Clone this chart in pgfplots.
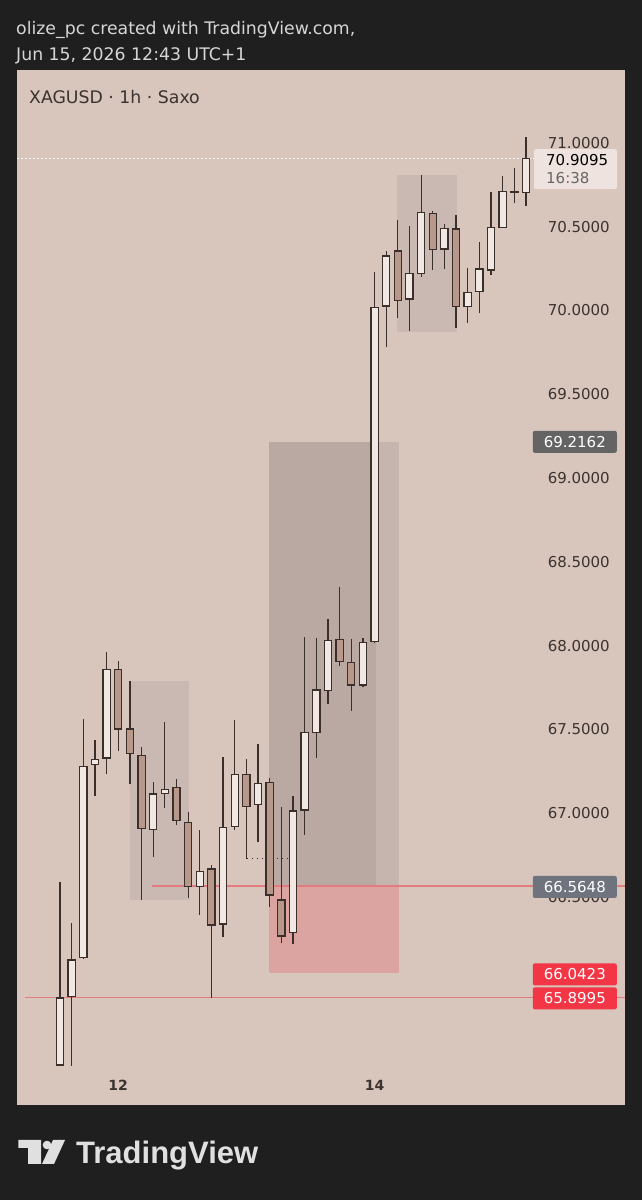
\documentclass[border=0pt]{standalone}
\usepackage{fontspec}
\setmainfont{DejaVu Sans}
\newfontfamily\tvfont{Liberation Sans}
\usepackage{pgfplots}
\pgfplotsset{compat=1.18}
\usepackage{pgfplotstable}
\definecolor{bgdark}{HTML}{1F1F1F}
\definecolor{panel}{HTML}{D8C5BC}
\definecolor{hdr}{HTML}{D6D6D6}
\definecolor{ink}{HTML}{3A2F2B}
\definecolor{bullfill}{HTML}{F1E8E4}
\definecolor{bearfill}{HTML}{B8988B}
\definecolor{boxlight}{HTML}{CAB9B2}
\definecolor{posgrey}{HTML}{C6B4AE}
\definecolor{posdark}{HTML}{BAA8A2}
\definecolor{posred}{HTML}{DCA4A0}
\definecolor{redline}{HTML}{E27C7E}
\definecolor{tvred}{HTML}{F23645}
\definecolor{lblgrey}{HTML}{646464}
\definecolor{lblslate}{HTML}{6E737D}
\definecolor{lbllight}{HTML}{EEE3DE}
\definecolor{ticktext}{HTML}{3B3330}
\definecolor{logo}{HTML}{E0E0E0}

% hourly candles: index, open, high, low, close
\pgfplotstableread{
x o h l c
0 65.496 66.588 65.490 65.896
1 65.903 66.345 65.490 66.122
2 66.136 67.559 66.130 67.276
3 67.291 67.436 67.101 67.321
4 67.328 67.961 67.231 67.858
5 67.858 67.907 67.372 67.501
6 67.501 67.788 67.171 67.356
7 67.344 67.396 66.481 66.909
8 66.903 67.187 66.739 67.113
9 67.118 67.541 67.028 67.141
10 67.153 67.201 66.928 66.954
11 66.944 67.008 66.491 66.560
12 66.560 66.899 66.391 66.650
13 66.666 66.690 65.897 66.331
14 66.337 67.333 66.262 66.912
15 66.918 67.555 66.899 67.231
16 67.231 67.322 66.724 67.038
17 67.052 67.412 66.825 67.177
18 67.183 67.207 66.437 66.510
19 66.481 67.038 66.222 66.266
20 66.288 67.101 66.218 67.012
21 67.018 68.049 66.869 67.479
22 67.479 68.043 67.330 67.734
23 67.730 68.158 67.651 68.029
24 68.037 68.347 67.879 67.903
25 67.900 68.037 67.611 67.764
26 67.764 68.047 67.750 68.019
27 68.023 70.228 68.015 70.017
28 70.027 70.357 69.780 70.325
29 70.355 70.540 69.953 70.059
30 70.069 70.506 69.878 70.222
31 70.222 70.809 70.202 70.584
32 70.580 70.596 70.242 70.365
33 70.367 70.515 70.248 70.491
34 70.487 70.570 69.894 70.023
35 70.023 70.252 69.927 70.109
36 70.112 70.407 69.983 70.248
37 70.242 70.709 70.212 70.494
38 70.497 70.803 70.497 70.709
39 70.707 70.853 70.640 70.712
40 70.703 71.038 70.626 70.9095
}\candles

% draw candle of row #1 with body fill #2; #3 = 1 bullish, 0 bearish
\newcommand\drawcandle[3]{%
  \pgfplotstablegetelem{#1}{o}\of\candles\let\vo\pgfplotsretval
  \pgfplotstablegetelem{#1}{h}\of\candles\let\vh\pgfplotsretval
  \pgfplotstablegetelem{#1}{l}\of\candles\let\vl\pgfplotsretval
  \pgfplotstablegetelem{#1}{c}\of\candles\let\vc\pgfplotsretval
  \ifnum#3=1 \let\vlo\vo\let\vhi\vc\else\let\vlo\vc\let\vhi\vo\fi
  \pgfmathsetmacro\xl{#1-0.31}\pgfmathsetmacro\xr{#1+0.31}%
  \edef\doplot{%
    \noexpand\addplot[ink, line width=1.25pt] coordinates {(#1,\vl) (#1,\vh)};
    \noexpand\addplot[draw=ink, fill=#2, line width=1.25pt] coordinates {(\xl,\vlo) (\xr,\vlo) (\xr,\vhi) (\xl,\vhi)} -- cycle;}%
  \doplot
}

\begin{document}
\begin{tikzpicture}[x=1pt,y=1pt]
\useasboundingbox (0,0) rectangle (642,1200);
\fill[bgdark] (0,0) rectangle (642,1200);

\begin{axis}[
  at={(17pt,95pt)}, anchor=south west,
  width=608pt, height=1035pt, scale only axis,
  xmin=-3.69, xmax=48.5, ymin=65.257, ymax=71.436,
  axis background/.style={fill=panel},
  axis line style={draw=none},
  major tick length=0pt,
  xtick={5,27}, xticklabels={12,14},
  xticklabel style={anchor=base, yshift=14pt, inner sep=0pt, font=\fontsize{14}{16}\selectfont\bfseries, text=ticktext},
  ytick={66.5,67,67.5,68,68.5,69,69.5,70,70.5,71},
  yticklabel pos=right,
  yticklabel style={anchor=east, xshift=-15pt, inner sep=0pt, font=\fontsize{15}{17}\selectfont, text=ticktext,
    /pgf/number format/fixed, /pgf/number format/fixed zerofill,
    /pgf/number format/precision=4, /pgf/number format/assume math mode=true},
]
% shaded zones
\addplot[fill=boxlight, draw=none] coordinates {(6.01,66.481) (11.07,66.481) (11.07,67.788) (6.01,67.788)} -- cycle;
\addplot[fill=boxlight, draw=none] coordinates {(28.95,69.873) (34.1,69.873) (34.1,70.809) (28.95,70.809)} -- cycle;
\addplot[fill=posgrey, draw=none] coordinates {(17.97,66.5648) (29.10,66.5648) (29.10,69.2162) (17.97,69.2162)} -- cycle;
\addplot[fill=posdark, draw=none] coordinates {(17.97,66.5648) (27.12,66.5648) (27.12,69.2162) (17.97,69.2162)} -- cycle;
\addplot[fill=posred, draw=none] coordinates {(17.97,66.0423) (29.10,66.0423) (29.10,66.5648) (17.97,66.5648)} -- cycle;
% horizontal levels
\addplot[redline, line width=1.2pt] coordinates {(7.9,66.5648) (48.5,66.5648)};
\addplot[redline, line width=1.2pt] coordinates {(-3.0,65.8995) (48.5,65.8995)};
\addplot[white!85!panel, line width=1pt, dash pattern=on 1.5pt off 2.5pt] coordinates {(-3.69,70.9095) (41,70.9095)};
\addplot[ink, line width=1pt, dash pattern=on 1pt off 4pt] coordinates {(16.05,66.731) (19.7,66.731)};
% bullish candles
\pgfplotsinvokeforeach{0,1,2,3,4,8,9,12,14,15,17,20,21,22,23,26,27,28,30,31,33,35,36,37,38,39,40}{\drawcandle{#1}{bullfill}{1}}
% bearish candles
\pgfplotsinvokeforeach{5,6,7,10,11,13,16,18,19,24,25,29,32,34}{\drawcandle{#1}{bearfill}{0}}
\coordinate (pCur) at (axis cs:48.5,70.9095);
\coordinate (pT) at (axis cs:48.5,69.2162);
\coordinate (pE) at (axis cs:48.5,66.5648);
\coordinate (pS) at (axis cs:48.5,66.0423);
\coordinate (pL) at (axis cs:48.5,65.8995);
\coordinate (pTL) at (axis cs:-3.69,71.436);
\end{axis}

% header and title
\node[anchor=base west, text=hdr, font=\fontsize{17.3}{20}\selectfont, inner sep=0pt] at (16,1165) {olize\_pc created with TradingView.com,};
\node[anchor=base west, text=hdr, font=\fontsize{17.3}{20}\selectfont, inner sep=0pt] at (16,1139) {Jun 15, 2026 12:43 UTC+1};
\node[anchor=base west, text=ticktext, font=\fontsize{17.3}{20}\selectfont, inner sep=0pt] at ([xshift=12pt,yshift=-33.3pt]pTL) {XAGUSD · 1h · Saxo};

% price labels
\fill[lbllight, rounded corners=2pt] ([xshift=-91pt,yshift=9pt]pCur) rectangle ([xshift=-8pt,yshift=-31pt]pCur);
\node[anchor=base west, inner sep=0pt, text=black, font=\fontsize{15}{17}\selectfont] at ([xshift=-79pt,yshift=-7.5pt]pCur) {70.9095};
\node[anchor=base west, inner sep=0pt, text=black!60, font=\fontsize{15}{17}\selectfont] at ([xshift=-79pt,yshift=-25.8pt]pCur) {16:38};
\tikzset{lbl/.style={text=white, rounded corners=2pt, minimum width=84pt, minimum height=22pt, inner sep=0pt, anchor=east, font=\fontsize{15}{17}\selectfont}}
\node[lbl, fill=lblgrey] at ([xshift=-8pt]pT) {69.2162};
\node[lbl, fill=lblslate] at ([xshift=-8pt,yshift=-1pt]pE) {66.5648};
\node[lbl, fill=tvred] at ([xshift=-8pt,yshift=-1pt]pS) {66.0423};
\node[lbl, fill=tvred] at ([xshift=-8pt,yshift=-1pt]pL) {65.8995};

% TradingView footer
\fill[logo] (18.4,60) -- (41,60) -- (41,36) -- (28,36) -- (28,52) -- (18.4,52) -- cycle;
\fill[logo] (47,55) circle (4.3);
\fill[logo] (53,60) -- (65,60) -- (54,36) -- (42,36) -- cycle;
\node[anchor=base west, inner sep=0pt, text=logo, font=\tvfont\bfseries\fontsize{31}{34}\selectfont] at (76,36) {TradingView};
\end{tikzpicture}
\end{document}
